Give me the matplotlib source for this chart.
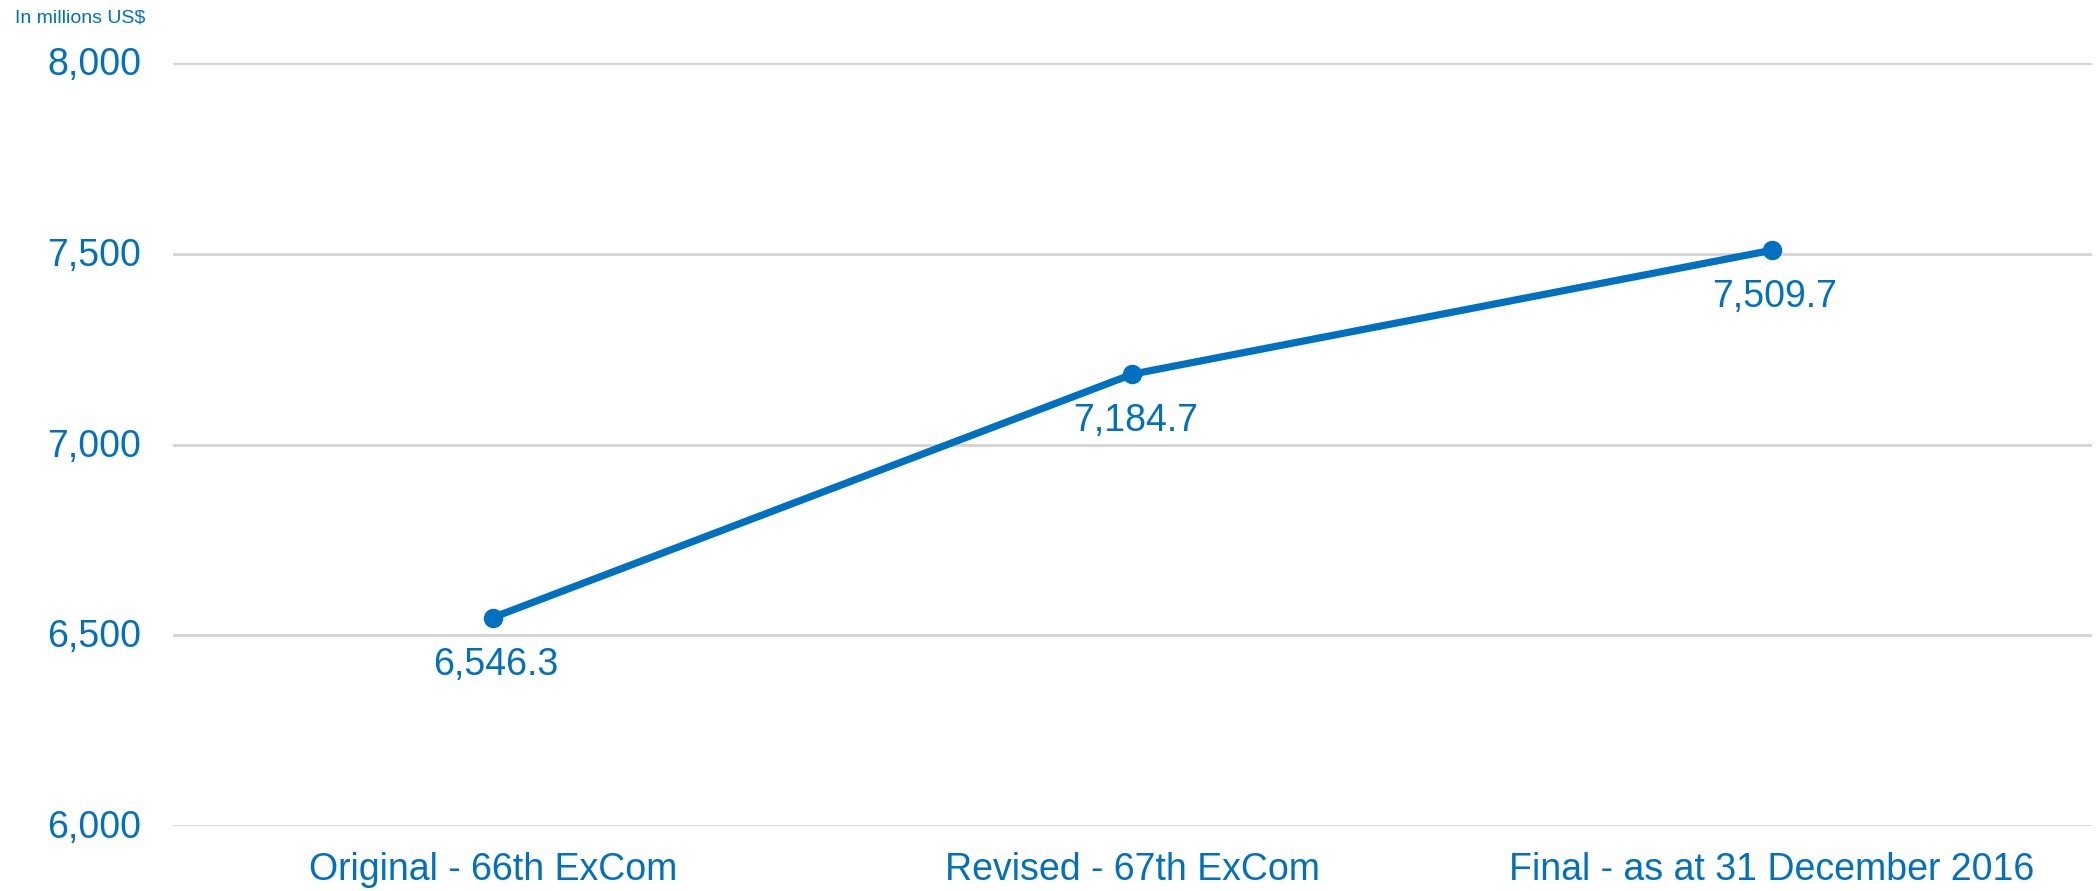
import matplotlib.pyplot as plt
import matplotlib.transforms as mtransforms
from matplotlib.ticker import FuncFormatter

plt.rcParams['font.family'] = ['Liberation Sans', 'DejaVu Sans']

stages = ['Original - 66th ExCom', 'Revised - 67th ExCom', 'Final - as at 31 December 2016']
budget = [6546.3, 7184.7, 7509.7]  # millions US$
yticks = [6000, 6500, 7000, 7500, 8000]

blue = '#0070C0'
grid = '#D4D4D4'

fig = plt.figure(figsize=(20.96, 8.91), dpi=100)
ax = fig.add_axes([0.0825, 0.073, 0.9155, 0.856])

x = list(range(len(stages)))
ax.plot(x, budget, color=blue, linewidth=5.2, marker='o', markersize=13,
        solid_capstyle='round', zorder=3)

for xi, v in zip(x, budget):
    ax.annotate(f'{v:,.1f}', (xi, v), xytext=(2, -34), textcoords='offset points',
                ha='center', va='center', fontsize=27, color=blue)

ax.set_xlim(-0.5, len(stages) - 0.5)
ax.set_ylim(6000, 8000)
ax.set_yticks(yticks)
ax.yaxis.set_major_formatter(FuncFormatter(lambda v, p: f'{v:,.0f}'))
ax.set_xticks(x)
ax.set_xticklabels(stages)

ax.grid(axis='y', color=grid, linewidth=2)
ax.set_axisbelow(True)
for s in ax.spines.values():
    s.set_visible(False)
ax.tick_params(axis='both', length=0, labelsize=27, labelcolor=blue)
ax.tick_params(axis='y', pad=23)
ax.tick_params(axis='x', pad=19)

# nudge y tick labels up so the digits sit centred on the gridlines
shift = mtransforms.ScaledTranslation(0, 2 / 100, fig.dpi_scale_trans)
for lab in ax.get_yticklabels():
    lab.set_transform(lab.get_transform() + shift)

fig.text(15 / 2096, 1 - 9 / 891, 'In millions US$', ha='left', va='top',
         fontsize=14, color=blue)

fig.savefig('out.png', dpi=100)
